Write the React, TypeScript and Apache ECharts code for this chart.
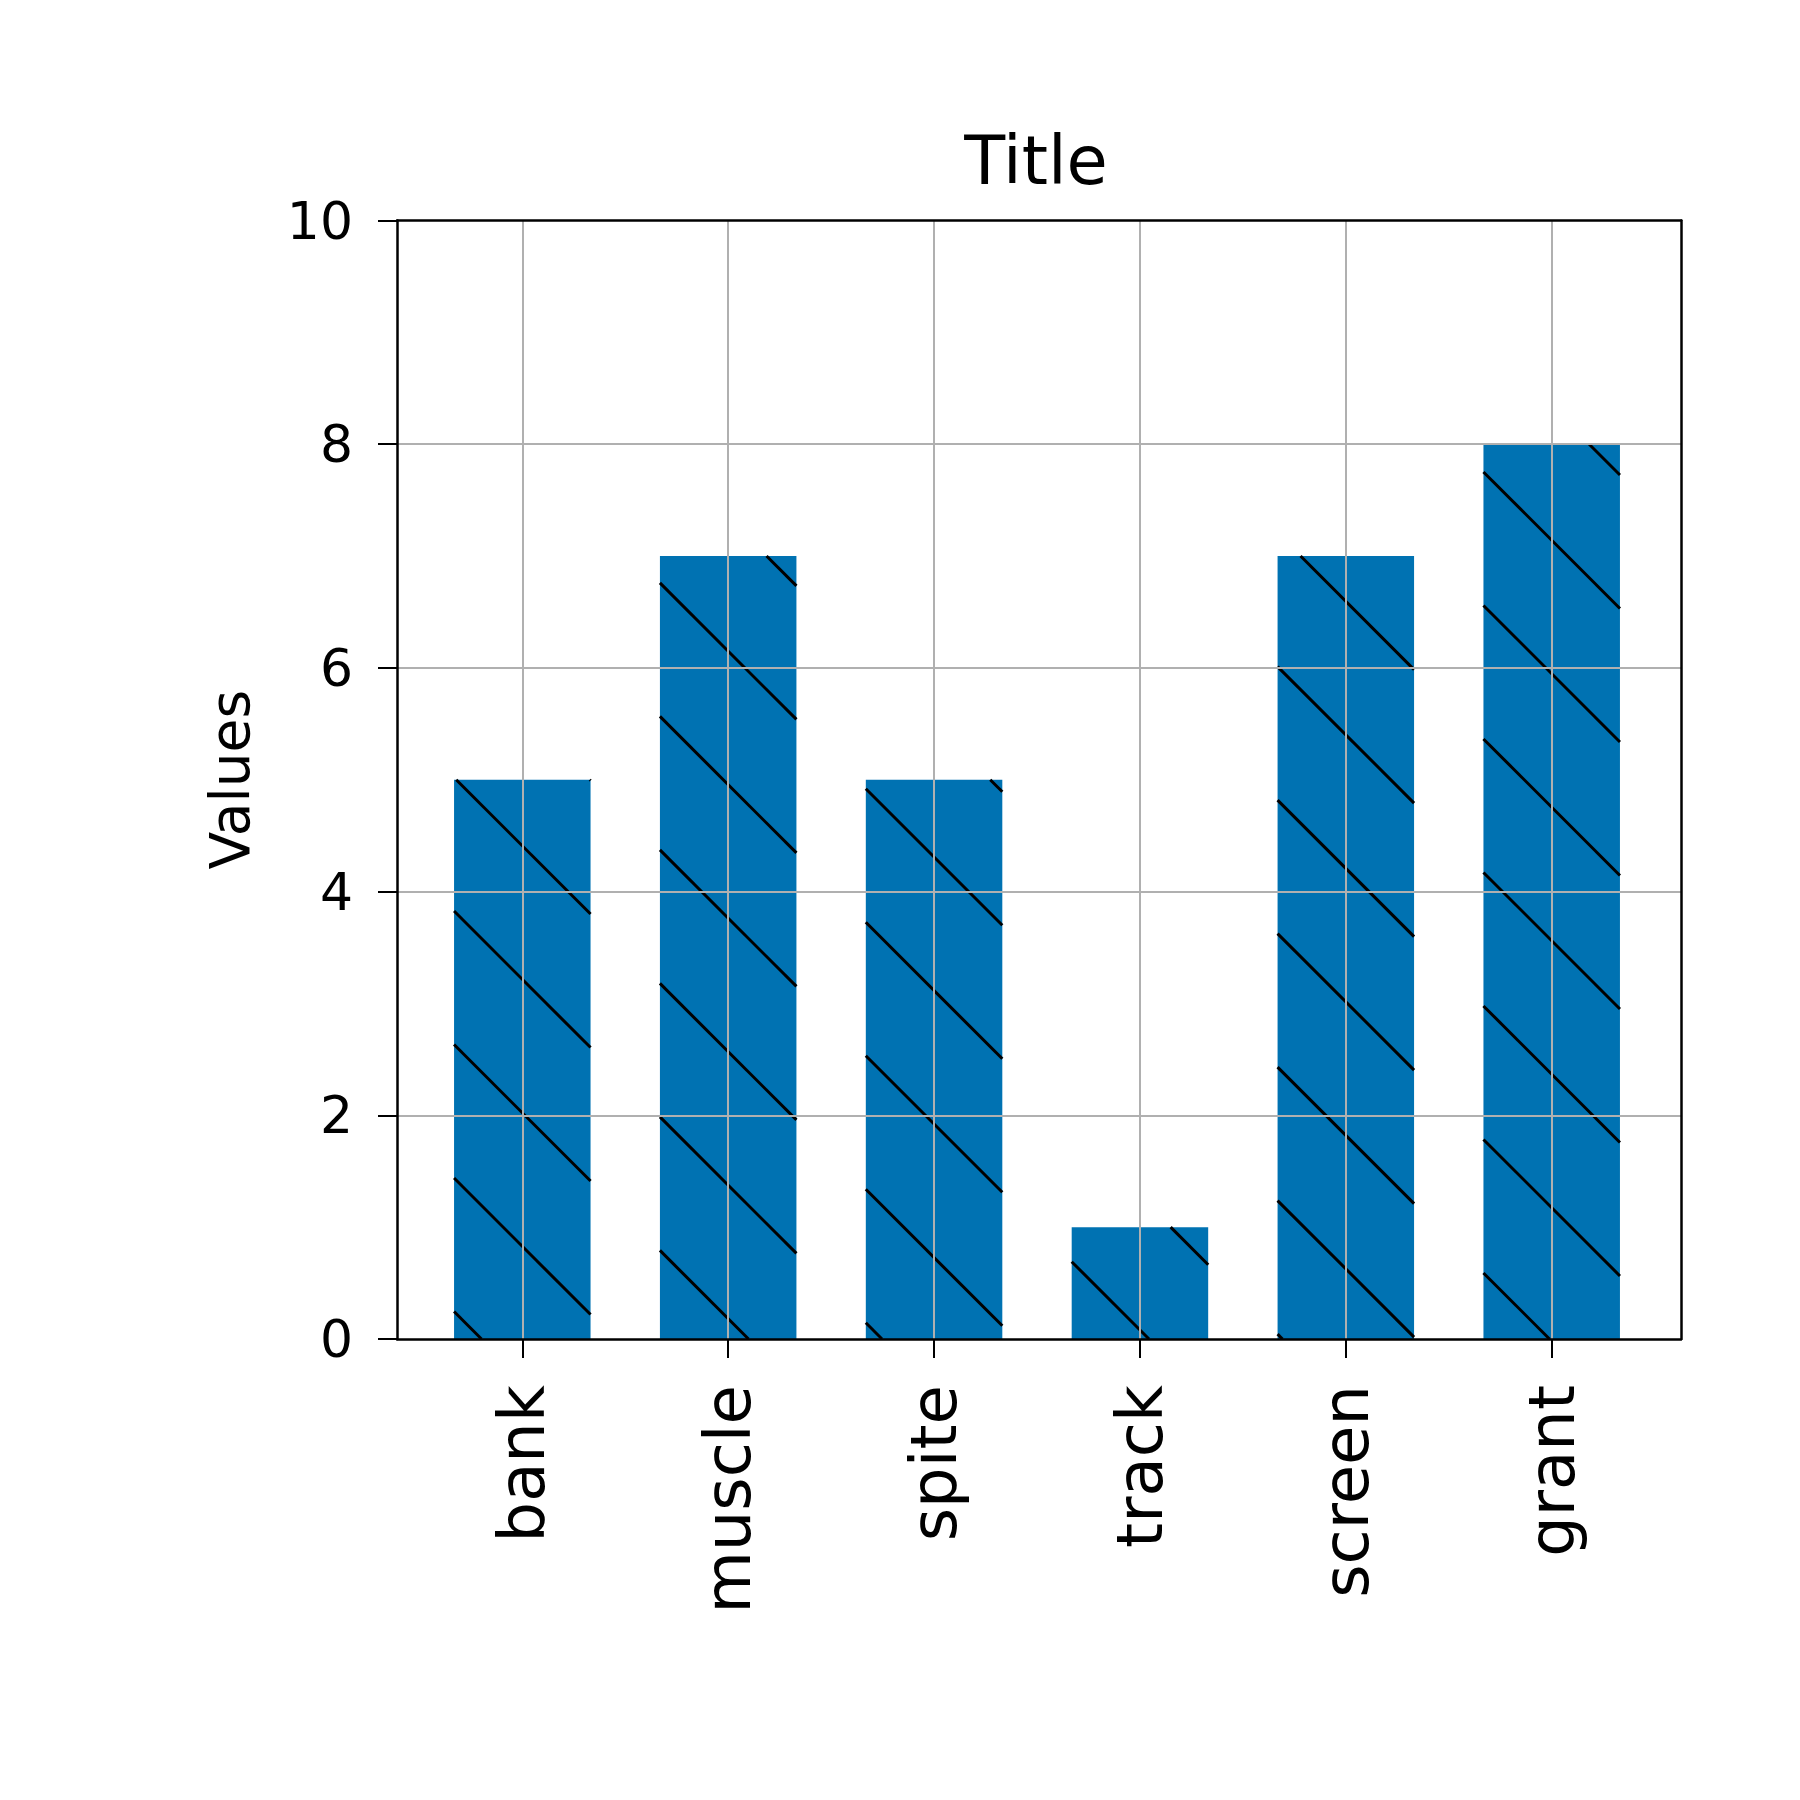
import React, { useEffect, useRef } from 'react';
import * as echarts from 'echarts';

const categories = ['bank', 'muscle', 'spite', 'track', 'screen', 'grant'];
const values = [5, 7, 5, 1, 7, 8];
const yMin = 0;
const yMax = 10;
const yInterval = 2;
const chartTitle = 'Title';
const yLabel = 'Values';

const FONT = 'DejaVu Sans';
const BAR_COLOR = '#0072b2';
const GRID_COLOR = '#b0b0b0';
const PLOT_LEFT = 397;
const PLOT_RIGHT = 1681;
const PLOT_TOP = 220.5;
const PLOT_BOTTOM = 1339;
const CAT_FIRST = 522.3;
const CAT_LAST = 1551.7;
const BAR_FRACTION = 0.663;
const HATCH_PERIOD = 133.5;
const HATCH_PHASE = 56.5;

function renderBar(params: any, api: any) {
  const i = api.value(0);
  const v = api.value(1);
  const base = api.coord([i, 0]);
  const top = api.coord([i, v]);
  const spacing = api.coord([1, 0])[0] - api.coord([0, 0])[0];
  const w = spacing * BAR_FRACTION;
  const x0 = base[0] - w / 2;
  const x1 = base[0] + w / 2;
  const y0 = top[1];
  const y1 = base[1];
  const children: any[] = [
    { type: 'rect', shape: { x: x0, y: y0, width: w, height: y1 - y0 }, style: { fill: BAR_COLOR } },
  ];
  const cMin = y0 - x1;
  const cMax = y1 - x0;
  let k = Math.ceil((cMin - HATCH_PHASE) / HATCH_PERIOD);
  for (; HATCH_PHASE + k * HATCH_PERIOD <= cMax; k++) {
    const c = HATCH_PHASE + k * HATCH_PERIOD;
    const xa = Math.max(x0, y0 - c);
    const xb = Math.min(x1, y1 - c);
    if (xb > xa + 0.5) {
      children.push({
        type: 'line',
        shape: { x1: xa, y1: xa + c, x2: xb, y2: xb + c },
        style: { stroke: '#000', lineWidth: 3 },
      });
    }
  }
  return { type: 'group', children };
}

export default function App() {
  const ref = useRef<HTMLDivElement>(null);
  useEffect(() => {
    if (!ref.current) return;
    const chart = echarts.init(ref.current, undefined, { renderer: 'svg' });
    const frameLine = { show: true, onZero: false, lineStyle: { color: '#000', width: 2.5 } };
    const gridH = PLOT_BOTTOM - PLOT_TOP;
    chart.setOption({
      animation: false,
      backgroundColor: '#fff',
      textStyle: { fontFamily: FONT },
      title: {
        text: chartTitle,
        left: 1036,
        top: 127,
        textAlign: 'center',
        padding: 0,
        textStyle: { fontSize: 67, fontWeight: 'normal', color: '#000', fontFamily: FONT, lineHeight: 68 },
      },
      grid: [
        { left: PLOT_LEFT, top: PLOT_TOP, width: PLOT_RIGHT - PLOT_LEFT, height: gridH, show: false },
        { left: CAT_FIRST, top: PLOT_TOP, width: CAT_LAST - CAT_FIRST, height: gridH, show: false },
      ],
      xAxis: [
        {
          gridIndex: 0, type: 'value', min: 0, max: 1, position: 'bottom', z: 11,
          axisLine: frameLine, axisTick: { show: false }, axisLabel: { show: false }, splitLine: { show: false },
        },
        {
          gridIndex: 0, type: 'value', min: 0, max: 1, position: 'top', z: 11,
          axisLine: frameLine, axisTick: { show: false }, axisLabel: { show: false }, splitLine: { show: false },
        },
        {
          gridIndex: 1, type: 'category', data: categories, boundaryGap: false, position: 'bottom', z: 10,
          axisLine: { show: false, onZero: false },
          axisTick: { show: true, length: 19, lineStyle: { color: '#000', width: 2 } },
          axisLabel: { rotate: 90, margin: 46, fontSize: 64, color: '#000', fontFamily: FONT, interval: 0 },
          splitLine: { show: true, lineStyle: { color: GRID_COLOR, width: 2 } },
        },
      ],
      yAxis: [
        {
          gridIndex: 0, type: 'value', min: yMin, max: yMax, interval: yInterval, position: 'left', z: 10,
          axisLine: { show: false, onZero: false },
          axisTick: { show: true, length: 19, lineStyle: { color: '#000', width: 2 } },
          axisLabel: { margin: 44, fontSize: 52, color: '#000', fontFamily: FONT },
          splitLine: { show: true, showMinLine: false, showMaxLine: false, lineStyle: { color: GRID_COLOR, width: 2 } },
          name: yLabel,
          nameLocation: 'middle',
          nameGap: 140,
          nameTextStyle: { fontSize: 55, color: '#000', fontFamily: FONT },
        },
        {
          gridIndex: 0, type: 'value', min: 0, max: 1, position: 'left', z: 11,
          axisLine: frameLine, axisTick: { show: false }, axisLabel: { show: false }, splitLine: { show: false },
        },
        {
          gridIndex: 0, type: 'value', min: 0, max: 1, position: 'right', z: 11,
          axisLine: frameLine, axisTick: { show: false }, axisLabel: { show: false }, splitLine: { show: false },
        },
        { gridIndex: 1, type: 'value', min: yMin, max: yMax, show: false },
      ],
      series: [
        {
          type: 'custom',
          xAxisIndex: 2,
          yAxisIndex: 3,
          z: 2,
          renderItem: renderBar,
          data: values.map((v, i) => [i, v]),
        },
      ],
    });
    return () => chart.dispose();
  }, []);
  return (
    <div
      ref={ref}
      style={{ position: 'absolute', left: 0, top: 0, width: 1800, height: 1800, background: '#fff' }}
    />
  );
}
